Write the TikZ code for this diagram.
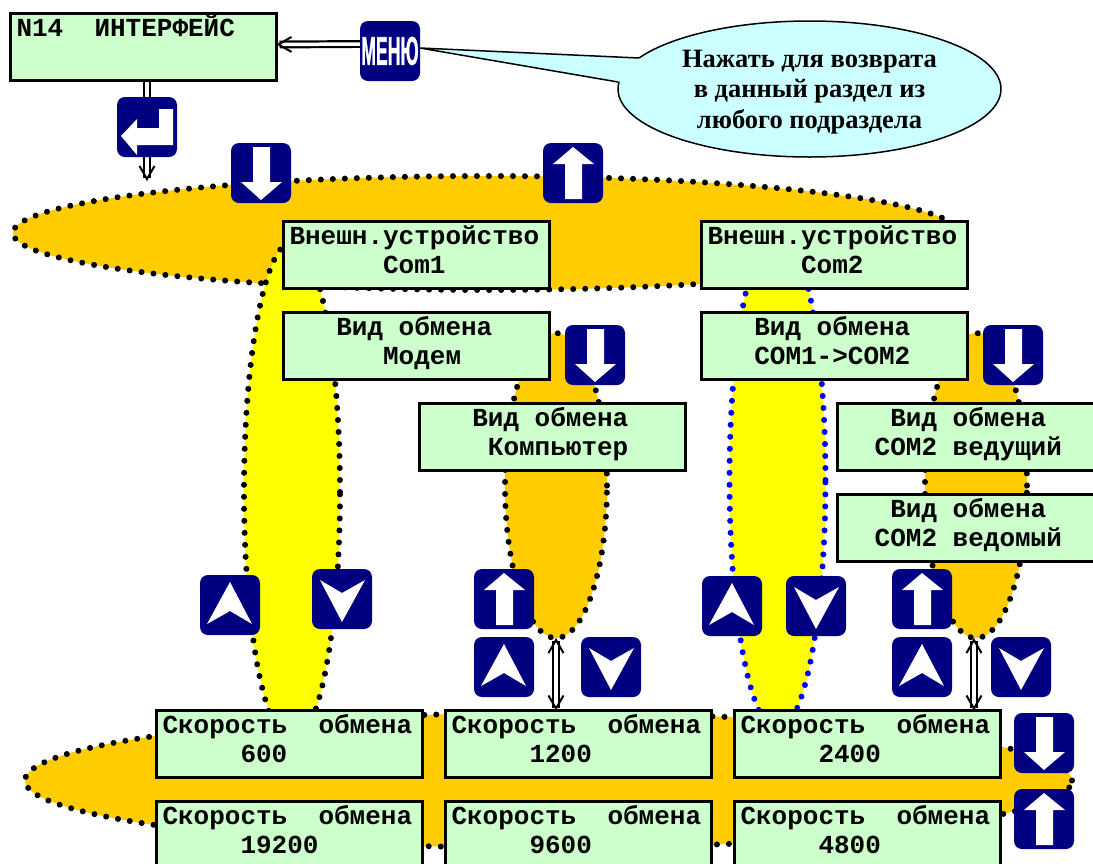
\documentclass[tikz,border=0pt]{standalone}
\usepackage{fontspec}
\usepackage{graphicx}
\setmainfont{Liberation Mono}
\newfontfamily\serifb{Liberation Serif}
\newfontfamily\sansb[FakeBold=1.5]{Liberation Sans}
\usetikzlibrary{arrows.meta,shapes.geometric}
\definecolor{boxgreen}{HTML}{CCFFCC}
\definecolor{orangey}{HTML}{FFCC00}
\definecolor{navyb}{HTML}{000080}
\definecolor{callcol}{HTML}{CCFFFF}
\definecolor{yellowy}{HTML}{FFFF00}
\definecolor{bluedot}{HTML}{0000FF}
\pgfdeclarelayer{back}
\pgfsetlayers{back,main}
\tikzset{
  lcd/.style={draw=black,line width=2.5pt,fill=boxgreen,anchor=north west,outer sep=0pt,
    inner xsep=6pt,inner ysep=0pt,text width=254pt,minimum height=67pt,align=flush left,
    text height=18pt,text depth=39pt,
    font=\fontsize{26}{29}\selectfont\bfseries},
  btn/.style={fill=navyb,rounded corners=8pt,minimum size=60pt,inner sep=0pt,outer sep=0pt},
  dots/.style={ellipse,inner sep=0pt,outer sep=0pt,line width=6pt,line cap=round,dash pattern=on 0.01pt off 12pt},
  orangeell/.style={dots,draw=black,fill=orangey},
  yellowell/.style={dots,draw=black,fill=yellowy},
  link/.style={double=white,double distance=3.5pt,line width=2.2pt,draw=black},
  linkend/.style={link,-{Straight Barb[length=13pt,width=15pt,line width=2pt]}},
  linkboth/.style={link,{Straight Barb[length=13pt,width=15pt,line width=2pt]}-{Straight Barb[length=13pt,width=15pt,line width=2pt]}},
}
\newcommand\btnDown[3]{\node[btn] (#1) at (#2,#3) {};
  \fill[white,shift={(#1.north west)}] (22,4)--(39,4)--(39,39)--(51,39)--(30,57)--(10,39)--(22,39)--cycle;}
\newcommand\btnUp[3]{\node[btn] (#1) at (#2,#3) {};
  \fill[white,shift={(#1.north west)}] (22,56)--(39,56)--(39,21)--(51,21)--(30,4)--(10,21)--(22,21)--cycle;}
\newcommand\btnChevUp[3]{\node[btn] (#1) at (#2,#3) {};
  \fill[white,shift={(#1.north west)}] (30,7)--(52,49)--(30,36)--(7,49)--cycle;}
\newcommand\btnChevDown[3]{\node[btn] (#1) at (#2,#3) {};
  \fill[white,shift={(#1.north west)}] (8,11)--(30,24)--(53,11)--(30,53)--cycle;}
\begin{document}
\begin{tikzpicture}[x=1pt,y=-1pt]
\begin{pgfonlayer}{back}
\fill[white] (0,0) rectangle (1093,863);
\end{pgfonlayer}
\clip (0,0) rectangle (1093,863);
% dotted regions
\node[orangeell,minimum width=946pt,minimum height=114pt] (etop) at (486,233) {};
\node[orangeell,minimum width=1047pt,minimum height=135pt] (ebot) at (548.5,780.5) {};
\node[yellowell,minimum width=96pt,minimum height=500pt] (y1) at (292,492) {};
\node[dots,draw=bluedot,fill=yellowy,minimum width=96pt,minimum height=500pt] (y2) at (777.5,480) {};
\node[orangeell,minimum width=102pt,minimum height=305pt] (o1) at (556,485.5) {};
\node[orangeell,minimum width=102pt,minimum height=305pt] (o2) at (976,485.5) {};
% boxes
\node[lcd] (n14) at (10.5,13.5) {N14~~ИНТЕРФЕЙС\\~};
\node[lcd] (ext1) at (283.5,221.5) {Внешн.устройство\\~~~~~~Com1};
\node[lcd] (ext2) at (701.5,221.5) {Внешн.устройство\\~~~~~~Com2};
\node[lcd] (modem) at (283.5,312.5) {~~~Вид обмена\\~~~~~~Модем};
\node[lcd] (com12) at (701.5,312.5) {~~~Вид обмена\\~~~COM1->COM2};
\node[lcd] (pc) at (419.5,403.5) {~~~Вид обмена\\~~~~Компьютер};
\node[lcd] (master) at (837.5,403.5) {~~~Вид обмена\\~~COM2 ведущий};
\node[lcd] (slave) at (837.5,494.5) {~~~Вид обмена\\~~COM2 ведомый};
\node[lcd] (s600) at (156.5,710.5) {Скорость~~обмена\\~~~~~600};
\node[lcd] (s1200) at (445.5,710.5) {Скорость~~обмена\\~~~~~1200};
\node[lcd] (s2400) at (734.5,710.5) {Скорость~~обмена\\~~~~~2400};
\node[lcd] (s19200) at (156.5,801.5) {Скорость~~обмена\\~~~~~19200};
\node[lcd] (s9600) at (445.5,801.5) {Скорость~~обмена\\~~~~~9600};
\node[lcd] (s4800) at (734.5,801.5) {Скорость~~обмена\\~~~~~4800};
% callout
\coordinate (tailtip) at (420,48);
\node[ellipse,draw=black,line width=1.5pt,fill=callcol,inner sep=0pt,outer sep=0pt,minimum width=383pt,minimum height=136pt] (call) at (809.5,89) {};
\coordinate (tailA) at (639,58);
\coordinate (tailB) at (618,82);
\fill[callcol] (tailtip) -- (tailA) -- (650,70) -- (tailB) -- cycle;
\draw[line width=1.5pt,line join=miter] (tailA) -- (tailtip) -- (tailB);
\node[align=center,inner sep=0pt,font=\fontsize{26.5}{30.5}\selectfont\serifb\bfseries] (calltext) at (809.5,92) {Нажать для возврата\\в данный раздел из\\любого подраздела};
% buttons
\node[btn,text=white,font=\fontsize{40}{40}\sansb\bfseries] (menu) at (390,51) {\scalebox{.44}[1]{МЕНЮ}};
\node[btn] (ret) at (147,127) {};
\fill[white,shift={(ret.north west)}] (4,39)--(20,22)--(20,31)--(42,31)--(42,12)--(56,12)--(56,48)--(20,48)--(20,58)--cycle;
\btnDown{bd1}{261}{173}
\btnUp{bu1}{573}{173}
\btnDown{bd2}{595}{355}
\btnDown{bd3}{1013}{355}
\btnChevUp{cu1}{230}{605}
\btnChevDown{cd1}{342}{599}
\btnUp{bu2}{504}{599}
\btnChevUp{cu2}{504}{667}
\btnChevDown{cd2}{611}{667}
\btnChevUp{cu3}{732}{606}
\btnChevDown{cd3}{816}{606}
\btnUp{bu3}{922}{599}
\btnChevUp{cu4}{922}{667}
\btnChevDown{cd4}{1021}{667}
\btnDown{bd4}{1044}{743}
\btnUp{bu4}{1044}{819}
% connectors
\coordinate (retend) at (147,181);
\begin{pgfonlayer}{back}
\draw[linkend] ([yshift=7pt]menu.west) -- ([yshift=2.5pt]n14.east);
\draw[linkend] ([xshift=3.5pt]n14.south) -- (retend);
\draw[linkboth] (o1.south) -- (o1.south |- s1200.north);
\draw[linkboth] ([xshift=-2pt]o2.south) -- ([xshift=-2pt]o2.south |- s2400.north);
\end{pgfonlayer}
\end{tikzpicture}
\end{document}
